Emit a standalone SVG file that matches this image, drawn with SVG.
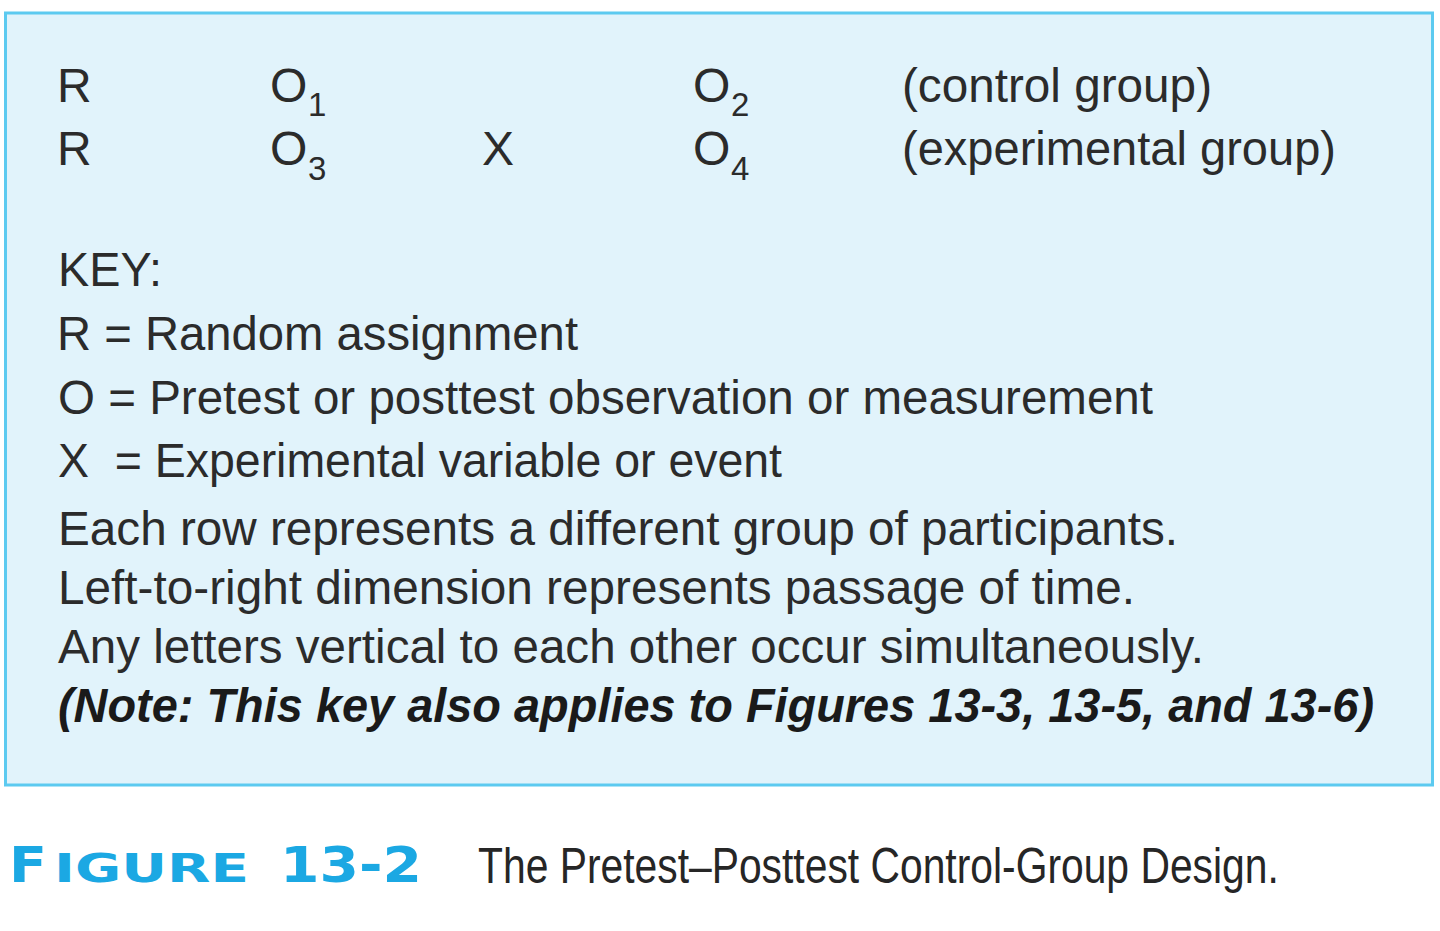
<svg xmlns="http://www.w3.org/2000/svg" width="1440" height="931" viewBox="0 0 1440 931">
<style>
.t{font-family:"Liberation Sans",Arial,Helvetica,sans-serif;font-size:48px;fill:#2b2b2b}
.s{font-family:"Liberation Sans",Arial,Helvetica,sans-serif;font-size:33px;fill:#2b2b2b}
.n{font-family:"Liberation Sans",Arial,Helvetica,sans-serif;font-size:48px;font-weight:bold;font-style:italic;fill:#1a1a1a}
.fig{font-family:"DejaVu Sans",Verdana,sans-serif;font-weight:bold;fill:#1ba8e3}
.cap{font-family:"Liberation Sans",Arial,sans-serif;font-size:50px;fill:#262626}
</style>
<rect width="1440" height="931" fill="#ffffff"/>
<g id="panel">
<rect x="5.5" y="13" width="1427" height="772" fill="#e1f3fb" stroke="#5ccaf0" stroke-width="3"/>
</g>
<g id="design-rows">
<text class="t" x="57" y="102">R</text>
<text class="t" x="270" y="102">O</text>
<text class="s" x="308" y="116">1</text>
<text class="t" x="693" y="102">O</text>
<text class="s" x="731" y="116">2</text>
<text class="t" x="902" y="102" textLength="310" lengthAdjust="spacingAndGlyphs">(control group)</text>
<text class="t" x="57" y="165">R</text>
<text class="t" x="270" y="165">O</text>
<text class="s" x="308" y="180">3</text>
<text class="t" x="482" y="165">X</text>
<text class="t" x="693" y="165">O</text>
<text class="s" x="731" y="180">4</text>
<text class="t" x="902" y="165" textLength="434" lengthAdjust="spacingAndGlyphs">(experimental group)</text>
</g>
<g id="key">
<text class="t" x="58" y="286" textLength="104" lengthAdjust="spacingAndGlyphs">KEY:</text>
<text class="t" x="57" y="350" textLength="521" lengthAdjust="spacingAndGlyphs">R = Random assignment</text>
<text class="t" x="58" y="414" textLength="1095" lengthAdjust="spacingAndGlyphs">O = Pretest or posttest observation or measurement</text>
<text class="t" x="58" y="477" textLength="724" lengthAdjust="spacingAndGlyphs" xml:space="preserve">X  = Experimental variable or event</text>
<text class="t" x="58" y="545" textLength="1120" lengthAdjust="spacingAndGlyphs">Each row represents a different group of participants.</text>
<text class="t" x="58" y="604" textLength="1077" lengthAdjust="spacingAndGlyphs">Left-to-right dimension represents passage of time.</text>
<text class="t" x="58" y="663" textLength="1146" lengthAdjust="spacingAndGlyphs">Any letters vertical to each other occur simultaneously.</text>
<text class="n" x="58" y="722" textLength="1316" lengthAdjust="spacingAndGlyphs">(Note: This key also applies to Figures 13-3, 13-5, and 13-6)</text>
</g>
<g id="caption">
<text class="fig" x="9" y="882" font-size="49" textLength="38" lengthAdjust="spacingAndGlyphs">F</text>
<text class="fig" x="54" y="882" font-size="39" textLength="195" lengthAdjust="spacingAndGlyphs">IGURE</text>
<text class="fig" x="280" y="882" font-size="49" textLength="142" lengthAdjust="spacingAndGlyphs">13-2</text>
<text class="cap" transform="translate(478,883) scale(0.8,1)" x="0" y="0" textLength="1001" lengthAdjust="spacingAndGlyphs">The Pretest–Posttest Control-Group Design.</text>
</g>
</svg>
